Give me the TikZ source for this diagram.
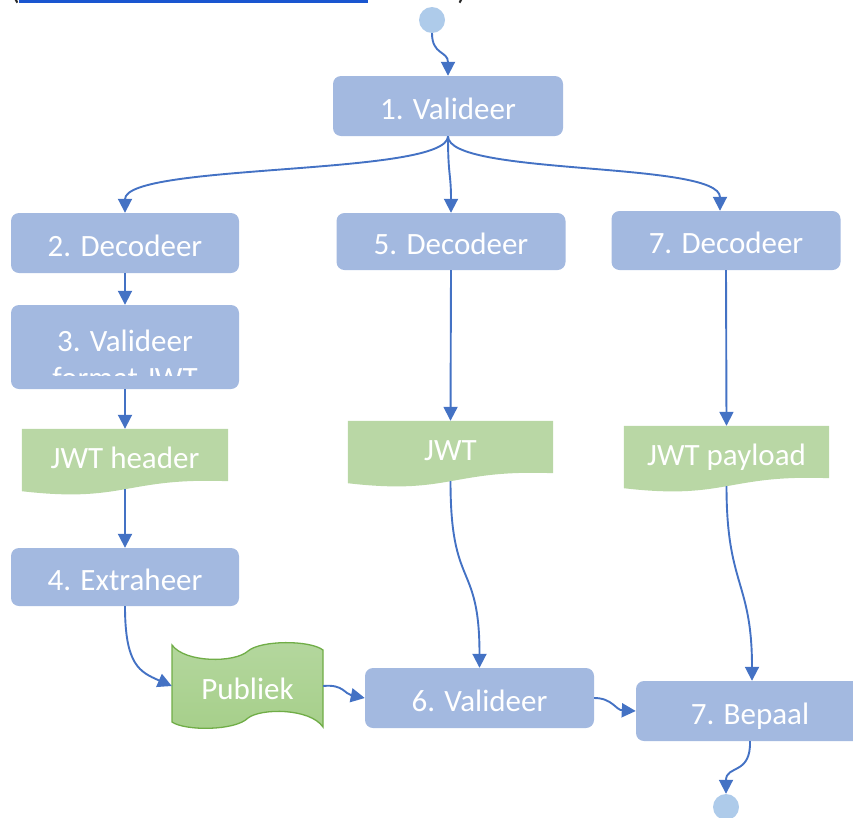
\documentclass[tikz,border=0pt]{standalone}
\usepackage{fontspec}
\setmainfont{Carlito}
\usetikzlibrary{arrows.meta,calc,backgrounds}
\definecolor{boxblue}{HTML}{A3B9E0}
\definecolor{docgreen}{HTML}{B9D7A5}
\definecolor{tapetop}{HTML}{B4D79E}
\definecolor{tapebottom}{HTML}{A6CF8A}
\definecolor{tapeedge}{HTML}{70AD47}
\definecolor{dotblue}{HTML}{AECBEA}
\definecolor{flowblue}{HTML}{4472C4}
\definecolor{hyperblue}{HTML}{1A56D0}

% document shape (flat top, wavy bottom) around a named node
\newcommand{\wavedoc}[1]{%
  \fill[docgreen] (#1.north west) -- (#1.north east) -- (#1.south east)
    .. controls ($(#1.south)+(0,-4)$) and ($(#1.south)+(0,22)$) .. ($(#1.south west)+(0,10)$) -- cycle;}

\begin{document}
\begin{tikzpicture}[x=1pt,y=-1pt,
  every node/.style={inner sep=0pt, text=white, font=\fontsize{31}{37}\selectfont,
    text height=26pt, text depth=0pt},
  stepbox/.style={fill=boxblue, rounded corners=8pt, minimum width=229pt, minimum height=60pt},
  docnode/.style={minimum width=206pt, minimum height=52pt},
  flow/.style={draw=flowblue, line width=1.9pt, -{Triangle[length=14pt,width=14pt]}},
  dot/.style={circle, fill=dotblue, minimum size=26pt}]
\useasboundingbox (0,0) rectangle (853,817);
\clip (0,0) rectangle (853,817);

% fragment of the preceding text line
\node[anchor=base, text=black!85] (lparen) at (15,-1) {(};
\node[anchor=base, text=black!85] (rparen) at (462,-1) {)};
\fill[hyperblue] (19,0) rectangle (368,2.5);

% start and end points
\node[dot] (start) at (432,20) {};
\node[dot] (stop) at (726,807) {};

% process steps
\node[stepbox, minimum width=230pt] (b1) at (448,106) {1. Valideer};
\node[stepbox, minimum width=228pt] (b2) at (125,243) {2. Decodeer};
\node[stepbox, minimum width=228pt, minimum height=84pt] (b3) at (125,347) {};
\begin{scope}
  \clip (11,300) rectangle (239,375);
  \node[anchor=base] (b3a) at (125,351) {3. Valideer};
  \node[anchor=base] (b3b) at (125,388) {format JWT};
\end{scope}
\node[stepbox, minimum width=228pt, minimum height=58pt] (b4) at (125,577) {4. Extraheer};
\node[stepbox, minimum height=57pt] (b5) at (451,241.5) {5. Decodeer};
\node[stepbox, minimum height=59pt] (b7) at (726,240.5) {7. Decodeer};
\node[stepbox] (b6) at (479.5,698) {6. Valideer};
\node[stepbox, minimum width=228pt] (b8) at (750,711) {7. Bepaal};

% data documents
\node[docnode] (jh) at (125,455) {JWT header};
\node[docnode, minimum width=205pt] (jwt) at (450.5,447) {JWT};
\node[docnode, minimum width=205pt] (jp) at (726.5,452) {JWT payload};
\node[minimum width=151pt, minimum height=76pt] (pub) at (247.5,686) {Publiek};

\coordinate (jhb) at ($(jh.south)+(0,8)$);
\coordinate (jwtb) at ($(jwt.south)+(0,8)$);
\coordinate (jpb) at ($(jp.south)+(0,8)$);

\begin{pgfonlayer}{background}
  \wavedoc{jh}
  \wavedoc{jwt}
  \wavedoc{jp}
  % punched tape
  \draw[tapeedge, line width=1.3pt, top color=tapetop, bottom color=tapebottom]
    (172,645) .. controls (185,663) and (235,663) .. (248,651)
    .. controls (261,640) and (310,640) .. (323,650) -- (323,727)
    .. controls (310,708) and (261,708) .. (248,718)
    .. controls (235,731) and (185,731) .. (172,722) -- cycle;
\end{pgfonlayer}

% connectors
\draw[flow] (start.south) .. controls +(0,22) and +(0,-25) .. (b1.north);
\draw[flow] (b1.south) .. controls +(0,40) and +(0,-50) .. (b2.north);
\draw[flow] (b1.south) .. controls +(0,40) and +(0,-40) .. (b5.north);
\draw[flow] (b1.south) .. controls +(0,40) and +(0,-50) .. ([xshift=-6pt]b7.north);
\draw[flow] (b2.south) -- (b3.north);
\draw[flow] (b3.south) -- (jh.north);
\draw[flow] (jhb) -- (b4.north);
\draw[flow] (b4.south) .. controls +(0,59) and +(-32,-14) .. (pub.west);
\draw[flow] (pub.east) .. controls +(20,-2) and +(-20,-4) .. (b6.west);
\draw[flow] (b6.east) .. controls +(18,0) and +(-20,-1) .. (b8.west);
\draw[flow] (b5.south) -- (jwt.north);
\draw[flow] (jwtb) .. controls +(0,110) and +(0,-108) .. (b6.north);
\draw[flow] (b7.south) -- (jp.north);
\draw[flow] (jpb) .. controls +(0,100) and +(0,-100) .. ([xshift=2pt]b8.north);
\draw[flow] (b8.south) .. controls +(1,34) and +(0,-29) .. (stop.north);
\end{tikzpicture}
\end{document}
